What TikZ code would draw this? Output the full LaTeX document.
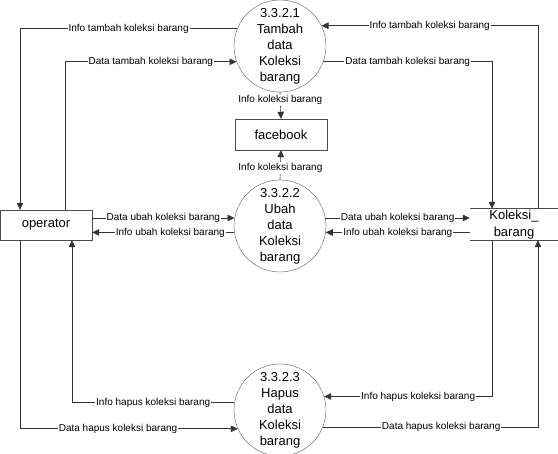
\documentclass[tikz,border=0pt]{standalone}
\usepackage{fontspec}
\setmainfont{Liberation Sans}
\usetikzlibrary{arrows.meta,positioning}
\tikzset{process/.style={
    circle, draw=black!65,
    minimum size=92pt,
    inner sep=0pt,
    align=center,
    font=\fontsize{13}{16}\selectfont
  },
  entity/.style={draw=black!70,
    minimum width=92pt,
    minimum height=30pt,
    inner sep=0pt,
    font=\fontsize{13}{16}\selectfont
  },
  flow/.style={draw=black!80, line width=0.6pt,
    -{Triangle[length=7pt,width=6.5pt]}
  },
  flowlabel/.style={fill=white, inner sep=1pt,
    font=\fontsize{10}{12}\selectfont
  }
}

\begin{document}
\begin{tikzpicture}[x=1pt,y=-1pt]
    \useasboundingbox (0,0) rectangle (558,454);
    % processes
    \node[process] (p1) at (280,46) {3.3.2.1\\Tambah\\data\\Koleksi\\barang};
    \node[process] (p2) at (280,226) {3.3.2.2\\Ubah\\data\\Koleksi\\barang};
    \node[process] (p3) at (280,410) {3.3.2.3\\Hapus\\data\\Koleksi\\barang};
    % entities and store
    \node[entity] (op) at (46,225) {operator};
    \node[entity, minimum height=31pt] (fb) at (281,134.5) {facebook};
    \node[align=center, minimum width=88pt, minimum height=31pt, inner sep=0pt,
          font=\fontsize{13}{17}\selectfont] (store) at (514,224.5) {Koleksi\_\\barang};
    \draw[black!70, line width=0.6pt] (store.north west) -- (store.north east)
        (store.south west) -- (store.south east);
    % lanes
    \coordinate (l1) at (20,0);
    \coordinate (l2) at (65,0);
    \coordinate (l3) at (72,0);
    \coordinate (r1) at (492,0);
    \coordinate (r2) at (538,0);

    % tambah
    \draw[flow] (p1.158) -- node[flowlabel]{Info tambah koleksi barang} (l1 |- p1.158) -- (l1 |- op.north);
    \draw[flow] (l2 |- op.north) -- (l2 |- p1.200) -- node[flowlabel]{Data tambah koleksi barang} (p1.200);
    \draw[flow] (r2 |- store.north) -- (r2 |- p1.26) -- node[flowlabel]{Info tambah koleksi barang} (p1.26);
    \draw[flow] (p1.340) -- node[flowlabel]{Data tambah koleksi barang} (r1 |- p1.340) -- (r1 |- store.north);

    % facebook
    \draw[flow] (p1.south) -- node[flowlabel, pos=0.3]{Info koleksi barang} (fb.north);
    \draw[flow] (p2.north) -- node[flowlabel, pos=0.4]{Info koleksi barang} (fb.south);

    % ubah
    \draw[flow] (op.east |- p2.170) -- node[flowlabel]{Data ubah koleksi barang} (p2.170);
    \draw[flow] (p2.188) -- node[flowlabel, pos=0.45]{Info ubah koleksi barang} (op.east |- p2.188);
    \draw[flow] (p2.10) -- node[flowlabel]{Data ubah koleksi barang} (store.west |- p2.10);
    \draw[flow] (store.west |- p2.352) -- node[flowlabel]{Info ubah koleksi barang} (p2.352);

    % hapus
    \draw[flow] (p3.171) -- node[flowlabel]{Info hapus koleksi barang} (l3 |- p3.171) -- (l3 |- op.south);
    \draw[flow] (l1 |- op.south) -- (l1 |- p3.204) -- node[flowlabel, pos=0.45]{Data hapus koleksi barang} (p3.204);
    \draw[flow] (r1 |- store.south) -- (r1 |- p3.17) -- node[flowlabel, pos=0.44]{Info hapus koleksi barang} (p3.17);
    \draw[flow] (p3.338) -- node[flowlabel, pos=0.55]{Data hapus koleksi barang} (r2 |- p3.338) -- (r2 |- store.south);
\end{tikzpicture}
\end{document}
